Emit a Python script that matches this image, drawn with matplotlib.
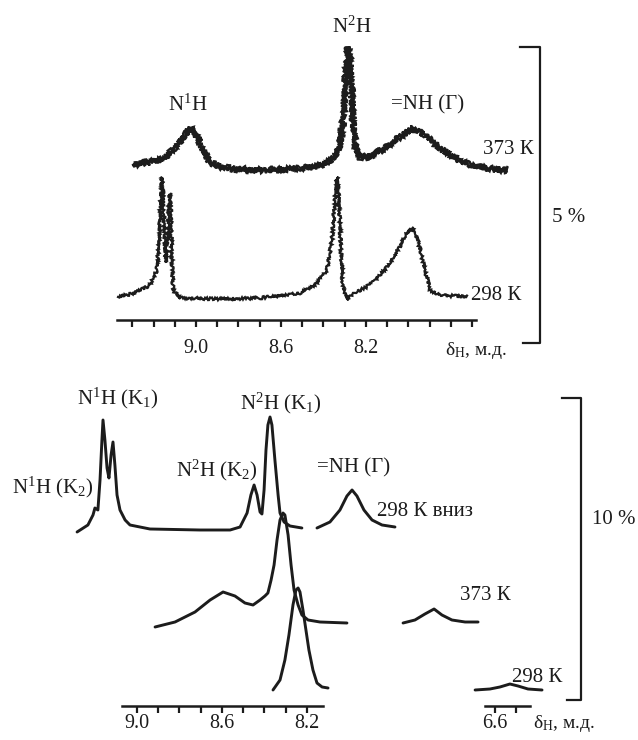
import matplotlib
matplotlib.use("Agg")
import matplotlib.pyplot as plt
from matplotlib.ticker import FixedLocator, FixedFormatter
from matplotlib.lines import Line2D

plt.rcParams['font.family'] = ['Liberation Serif', 'DejaVu Serif']
plt.rcParams['mathtext.default'] = 'regular'

# ---------------- data (chemical shift, ppm ; relative intensity) ----------------
# upper panel, 373 K
top373_ppm = [9.296, 9.216, 9.146, 9.085, 9.052, 9.024, 8.995, 8.967, 8.934, 8.864, 8.746,
              8.628, 8.511, 8.431, 8.379, 8.346, 8.322, 8.308, 8.299, 8.289, 8.285, 8.275,
              8.266, 8.256, 8.247, 8.228, 8.181, 8.111, 8.040, 7.979, 7.922, 7.852, 7.781,
              7.711, 7.616, 7.536]
top373_int = [3, 6, 10, 23, 33, 40, 33, 18, 5, 0, -2,
              -2, -1, 2, 6, 11, 23, 48, 78, 108, 121, 108,
              68, 33, 18, 10, 12, 20, 31, 40, 33, 20, 10,
              3, -1, -2]
# upper panel, 298 K
top298_ppm = [9.367, 9.287, 9.216, 9.184, 9.174, 9.165, 9.160, 9.155, 9.146, 9.141, 9.136,
              9.127, 9.122, 9.118, 9.113, 9.108, 9.075, 8.887, 8.699, 8.511, 8.440, 8.384,
              8.360, 8.346, 8.336, 8.327, 8.318, 8.308, 8.285, 8.261, 8.205, 8.158, 8.101,
              8.049, 8.012, 7.984, 7.960, 7.932, 7.899, 7.852, 7.725]
top298_int = [0, 4, 12, 27, 57, 102, 120, 102, 57, 35, 47,
              92, 104, 82, 37, 7, -1, -2, -1, 4, 12, 27,
              57, 97, 120, 97, 47, 10, -3, 4, 9, 17, 30,
              47, 62, 70, 60, 35, 7, 2, 0]
top_offsets = {'373': 202, '298': 73}
top_ticks = [9.3, 9.2, 9.1, 9.0, 8.9, 8.8, 8.7, 8.6, 8.5, 8.4, 8.3, 8.2, 8.1, 8.0, 7.9, 7.8, 7.7]
top_ticklabels = ['', '', '', '9.0', '', '', '', '8.6', '', '', '', '8.2', '', '', '', '', '']

# lower panel, 298 K (вниз)
down_ppm = [9.282, 9.231, 9.207, 9.198, 9.184, 9.174, 9.165, 9.160, 9.151, 9.141, 9.132,
            9.122, 9.113, 9.104, 9.094, 9.080, 9.056, 9.033, 8.939, 8.704, 8.562, 8.515,
            8.482, 8.464, 8.449, 8.435, 8.421, 8.412, 8.402, 8.393, 8.384, 8.374, 8.365,
            8.351, 8.336, 8.327, 8.308, 8.280, 8.224]
down_int = [-2, 5, 15, 22, 20, 50, 90, 110, 90, 62, 52,
            75, 88, 65, 35, 20, 10, 5, 1, 0, 0, 3,
            17, 35, 45, 35, 18, 16, 40, 80, 105, 113, 105,
            70, 35, 17, 8, 4, 2]
down_nh_ppm = [8.153, 8.092, 8.045, 8.012, 7.988, 7.965, 7.932, 7.894, 7.847, 7.786]
down_nh_int = [2, 8, 20, 34, 40, 34, 20, 10, 5, 3]
# lower panel, 373 K
hot_ppm = [8.915, 8.821, 8.727, 8.656, 8.595, 8.539, 8.492, 8.454, 8.421, 8.398, 8.384,
           8.369, 8.355, 8.341, 8.327, 8.313, 8.304, 8.289, 8.275, 8.261, 8.242, 8.224,
           8.195, 8.139, 8.012]
hot_int = [-2, 3, 13, 25, 33, 29, 22, 20, 25, 29, 32,
           45, 60, 85, 105, 112, 110, 90, 60, 35, 20, 10,
           5, 3, 2]
hot_nh_ppm = [7.748, 7.692, 7.645, 7.602, 7.565, 7.518, 7.456, 7.395]
hot_nh_int = [2, 5, 11, 16, 10, 5, 3, 3]
# lower panel, 298 K
cold_ppm = [8.360, 8.327, 8.304, 8.285, 8.266, 8.252, 8.242, 8.233, 8.219, 8.205, 8.191,
            8.172, 8.153, 8.129, 8.101]
cold_int = [0, 10, 30, 55, 85, 100, 102, 98, 80, 60, 40, 20, 7, 3, 2]
cold_nh_ppm = [7.409, 7.339, 7.292, 7.245, 7.207, 7.160, 7.094]
cold_nh_int = [0, 1, 3, 6, 4, 1, 0]
bot_offsets = {'down': 210, '373': 115, '298': 50}
bot_ticks = [9.0, 8.9, 8.8, 8.7, 8.6, 8.5, 8.4, 8.3, 8.2]
bot_ticklabels = ['9.0', '', '', '', '8.6', '', '', '', '8.2']
sub_ticks = [6.6, 6.5]
sub_ticklabels = ['6.6', '']

# ---------------- figure ----------------
W, H = 638, 740
fig = plt.figure(figsize=(W / 100, H / 100), dpi=100)
fig.patch.set_facecolor('white')

INK = '#1c1c1c'
PXPPM = 212.5


def px(x, y):
    return x / W, 1 - y / H


def style_axis(ax, ypos, bounds, ticks, labels, pad, fs=14.5):
    for s in ('top', 'right', 'left'):
        ax.spines[s].set_visible(False)
    ax.spines['bottom'].set_position(('data', ypos))
    ax.spines['bottom'].set_bounds(*bounds)
    ax.spines['bottom'].set_linewidth(1.8)
    ax.spines['bottom'].set_color(INK)
    ax.set_yticks([])
    ax.xaxis.set_major_locator(FixedLocator(ticks))
    ax.xaxis.set_major_formatter(FixedFormatter(labels))
    ax.tick_params(axis='x', direction='out', length=5, width=1.6, color=INK,
                   pad=pad, labelsize=fs, labelcolor=INK)
    for t in ax.get_xticklabels():
        t.set_fontfamily(['Liberation Serif', 'DejaVu Serif'])
    ax.patch.set_alpha(0)


# upper panel: axes covering pixel rows 0..370
ax1 = fig.add_axes([0, 0.5, 1, 0.5])
ax1.set_xlim(9.0 + 196 / PXPPM, 9.0 - (W - 196) / PXPPM)
ax1.set_ylim(0, 370)
style_axis(ax1, 50, (9.37, 7.68), top_ticks, top_ticklabels, pad=9)

y373 = [v + top_offsets['373'] for v in top373_int]
for lw, sc, ln in [(1.6, 3.4, 1.0), (1.6, 2.6, 1.6), (1.2, 1.8, 0.8)]:
    l, = ax1.plot(top373_ppm, y373, color=INK, lw=lw, solid_joinstyle='miter')
    l.set_sketch_params(scale=sc, length=ln, randomness=2)
y298 = [v + top_offsets['298'] for v in top298_int]
l298, = ax1.plot(top298_ppm, y298, color=INK, lw=1.6, solid_joinstyle='miter')
l298.set_sketch_params(scale=1.4, length=1.2, randomness=2)

# lower panel: axes covering pixel rows 370..740
ax2 = fig.add_axes([0, 0, 1, 0.5])
ax2.set_xlim(9.0 + 137 / PXPPM, 9.0 - (W - 137) / PXPPM)
ax2.set_ylim(0, 370)
style_axis(ax2, 34, (9.07, 8.125), bot_ticks, bot_ticklabels, pad=0.5)

for xs, ys, off in [(down_ppm, down_int, bot_offsets['down']),
                    (down_nh_ppm, down_nh_int, bot_offsets['down']),
                    (hot_ppm, hot_int, bot_offsets['373']),
                    (hot_nh_ppm, hot_nh_int, bot_offsets['373']),
                    (cold_ppm, cold_int, bot_offsets['298']),
                    (cold_nh_ppm, cold_nh_int, bot_offsets['298'])]:
    ax2.plot(xs, [v + off for v in ys], color=INK, lw=2.1,
             solid_joinstyle='round', solid_capstyle='round')

# small axis segment near 6.6 ppm
ax3 = fig.add_axes([0, 0, 1, 0.5])
ax3.set_xlim(6.6 + 495 / PXPPM, 6.6 - (W - 495) / PXPPM)
ax3.set_ylim(0, 370)
style_axis(ax3, 34, (6.647, 6.435), sub_ticks, sub_ticklabels, pad=0.5)

# ---------------- labels ----------------
TFS = 15


def label(x, y, s, ha='center', fs=TFS):
    fig.text(*px(x, y), s, ha=ha, va='center', fontsize=fs, color=INK)


label(188, 105, r'N$^1$H')
label(352, 27, r'N$^2$H')
label(428, 105, '=NH (Γ)')
label(483, 150, '373 К', ha='left')
label(471, 295, '298 К', ha='left')
label(445, 351, r'δ$_H$, м.д.', ha='left', fs=14)
label(552, 217, '5 %', ha='left')

label(118, 398, r'N$^1$H (K$_1$)')
label(281, 403, r'N$^2$H (K$_1$)')
label(217, 470, r'N$^2$H (K$_2$)')
label(53, 487, r'N$^1$H (K$_2$)')
label(354, 468, '=NH (Γ)')
label(377, 512, '298 К вниз', ha='left')
label(460, 595, '373 К', ha='left')
label(512, 677, '298 К', ha='left')
label(533, 724, r'δ$_H$, м.д.', ha='left', fs=14)
label(592, 520, '10 %', ha='left')

# brackets
for pts in ([(520, 47), (540, 47), (540, 343), (523, 343)],
            [(562, 398), (581, 398), (581, 700), (567, 700)]):
    xs = [p[0] / W for p in pts]
    ys = [1 - p[1] / H for p in pts]
    fig.add_artist(Line2D(xs, ys, transform=fig.transFigure, color=INK, lw=1.6))

fig.savefig('out.png', dpi=100, facecolor='white')
